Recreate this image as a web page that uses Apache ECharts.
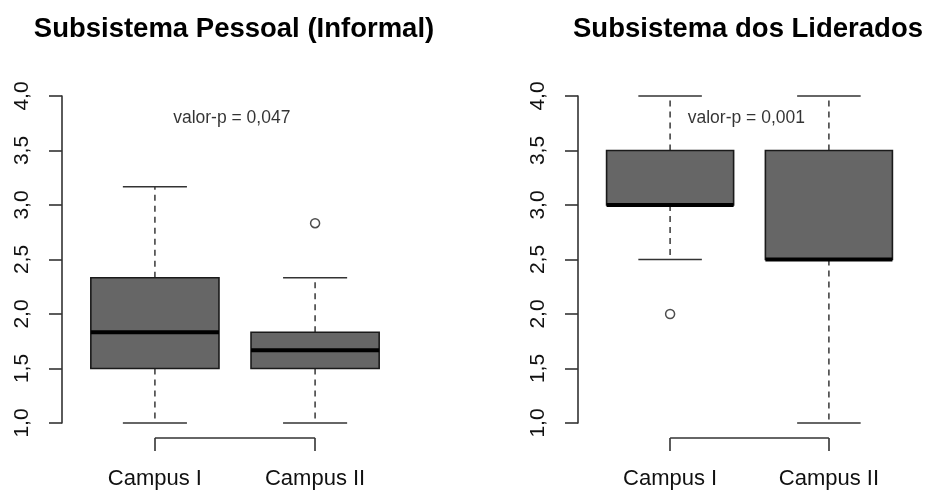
<!DOCTYPE html>
<html>
<head>
<meta charset="utf-8">
<script src="https://cdn.jsdelivr.net/npm/echarts@6/dist/echarts.min.js"></script>
<style>html,body{margin:0;padding:0;background:#fff;}#chart{width:928px;height:490px;}</style>
</head>
<body>
<div id="chart"></div>
<script>
// ---- data ----
const categories = ['Campus I', 'Campus II'];
const titles = ['Subsistema Pessoal (Informal)', 'Subsistema dos Liderados'];
const pValueTexts = ['valor-p = 0,047', 'valor-p = 0,001'];
const pValuePos = [1.48, 3.8];
// [min whisker, Q1, median, Q3, max whisker]
const pessoalStats = [[1.0, 1.5, 1.833, 2.333, 3.167], [1.0, 1.5, 1.667, 1.833, 2.333]];
const pessoalOutliers = [[2, 2.833]];
const lideradosStats = [[2.5, 3.0, 3.0, 3.5, 4.0], [1.0, 2.5, 2.5, 3.5, 4.0]];
const lideradosOutliers = [[1, 2.0]];
const yMin = 1.0, yMax = 4.0, yStep = 0.5;

const FONT = 'Liberation Sans, Arial, sans-serif';
const LINE = '#333';

function boxData(stats) { return stats.map((s, i) => [i + 1].concat(s)); }

function renderBox(params, api) {
  const x = api.value(0);
  const lo = api.coord([x, api.value(1)]);
  const q1 = api.coord([x, api.value(2)]);
  const md = api.coord([x, api.value(3)]);
  const q3 = api.coord([x, api.value(4)]);
  const hi = api.coord([x, api.value(5)]);
  const cx = lo[0];
  const hw = api.size([0.8, 0])[0] / 2;
  const cw = hw / 2;
  const dash = { stroke: '#444', lineWidth: 1.6, lineDash: [6, 5] };
  const solid = { stroke: LINE, lineWidth: 1.6 };
  return {
    type: 'group',
    children: [
      { type: 'line', shape: { x1: cx, y1: q3[1], x2: cx, y2: hi[1] }, style: dash },
      { type: 'line', shape: { x1: cx, y1: q1[1], x2: cx, y2: lo[1] }, style: dash },
      { type: 'line', shape: { x1: cx - cw, y1: hi[1], x2: cx + cw, y2: hi[1] }, style: solid },
      { type: 'line', shape: { x1: cx - cw, y1: lo[1], x2: cx + cw, y2: lo[1] }, style: solid },
      { type: 'rect', shape: { x: cx - hw, y: q3[1], width: 2 * hw, height: q1[1] - q3[1] },
        style: { fill: '#666666', stroke: '#1a1a1a', lineWidth: 1.6 } },
      { type: 'line', shape: { x1: cx - hw, y1: md[1], x2: cx + hw, y2: md[1] },
        style: { stroke: '#000', lineWidth: 4 } }
    ]
  };
}

function renderBracket(params, api) {
  const cs = params.coordSys;
  const y = cs.y + cs.height + 15;
  const a = api.coord([1, yMin])[0];
  const b = api.coord([categories.length, yMin])[0];
  return { type: 'line', shape: { x1: a, y1: y, x2: b, y2: y }, style: { stroke: LINE, lineWidth: 1.6 } };
}

const grids = [
  { left: 62, top: 96, width: 346, height: 327 },
  { left: 578, top: 96, width: 343, height: 327 }
];

const xAxes = grids.map((g, i) => ({
  type: 'value', gridIndex: i, min: 0.42, max: 2.58, offset: 15,
  axisLine: { show: false },
  splitLine: { show: false },
  axisTick: { show: true, customValues: [1, 2], length: 13, lineStyle: { color: LINE, width: 1.6 } },
  axisLabel: { show: true, customValues: [1, 2], margin: 30, fontSize: 22, color: '#111', fontFamily: FONT,
    formatter: v => categories[Math.round(v) - 1] }
}));

const yAxes = grids.map((g, i) => ({
  type: 'value', gridIndex: i, min: yMin, max: yMax, interval: yStep,
  axisLine: { show: true, lineStyle: { color: LINE, width: 1.6 } },
  axisTick: { show: true, length: 13, lineStyle: { color: LINE, width: 1.6 } },
  splitLine: { show: false },
  axisLabel: { rotate: 90, margin: 29, fontSize: 21, color: '#111', fontFamily: FONT,
    formatter: v => v.toFixed(1).replace('.', ',') }
}));

const panels = [
  { stats: pessoalStats, outliers: pessoalOutliers },
  { stats: lideradosStats, outliers: lideradosOutliers }
];

const series = [];
panels.forEach((p, i) => {
  series.push({
    type: 'custom', xAxisIndex: i, yAxisIndex: i, renderItem: renderBox,
    data: boxData(p.stats), encode: { x: 0, y: [1, 2, 3, 4, 5] }, silent: true, z: 2
  });
  series.push({
    type: 'scatter', xAxisIndex: i, yAxisIndex: i, data: p.outliers,
    symbol: 'circle', symbolSize: 9,
    itemStyle: { color: '#fff', borderColor: '#222', borderWidth: 1.5 }, silent: true, z: 3
  });
  series.push({
    type: 'custom', xAxisIndex: i, yAxisIndex: i, renderItem: renderBracket, clip: false,
    data: [[1, yMin]], silent: true
  });
  series.push({
    type: 'scatter', xAxisIndex: i, yAxisIndex: i, data: [pValuePos],
    symbolSize: 1, itemStyle: { color: 'rgba(0,0,0,0)' }, silent: true, z: 5,
    label: { show: true, position: 'inside', formatter: pValueTexts[i], fontSize: 17.5, color: '#000', fontFamily: FONT }
  });
});

const chart = echarts.init(document.getElementById('chart'), null, { renderer: 'canvas' });
chart.setOption({
  animation: false,
  backgroundColor: '#fff',
  textStyle: { fontFamily: FONT },
  grid: grids,
  xAxis: xAxes,
  yAxis: yAxes,
  graphic: [
    { type: 'text', x: 234, y: 29, style: { text: titles[0], fill: '#000', font: 'bold 27.5px ' + FONT, textAlign: 'center', textVerticalAlign: 'middle' } },
    { type: 'text', x: 748, y: 29, style: { text: titles[1], fill: '#000', font: 'bold 27.5px ' + FONT, textAlign: 'center', textVerticalAlign: 'middle' } }
  ],
  series: series
});
</script>
</body>
</html>
